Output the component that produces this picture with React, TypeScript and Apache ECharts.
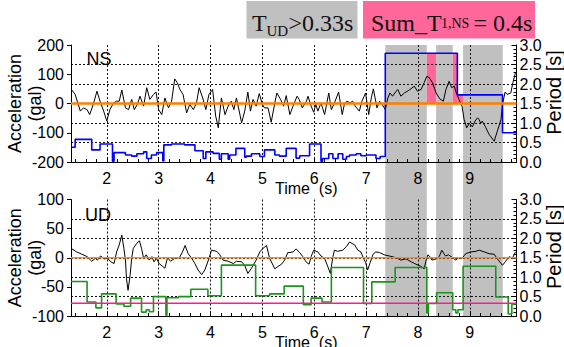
import React, { useEffect, useRef } from "react";
import * as echarts from "echarts";

// ---- axis ranges / reference levels ----
const X_MIN = 1.31;
const X_MAX = 9.9;
const NS_ACC_MIN = -200;
const NS_ACC_MAX = 200;
const NS_ACC_STEP = 100;
const UD_ACC_MIN = -100;
const UD_ACC_MAX = 100;
const UD_ACC_STEP = 50;
const PERIOD_MIN = 0;
const PERIOD_MAX = 3;
const PERIOD_STEP = 0.5;
const ZERO_LEVEL = 0;
const UD_THRESHOLD = 0.33;
const PINK_BASE = 1.5;

// ---- NS acceleration (gal) ----
const NS_ACCEL: [number, number][] = [
  [1.31, 50], [1.39, 31], [1.49, -26], [1.55, -15], [1.62, -21], [1.67, -38], [1.74, -3], [1.81, 42],
  [1.87, 8], [1.94, -26], [2.0, -60], [2.06, -21], [2.13, 2], [2.19, 8], [2.24, 8], [2.29, 46],
  [2.36, -15], [2.42, -21], [2.48, 14], [2.53, -21], [2.59, -3], [2.64, 25], [2.71, -9], [2.77, 54],
  [2.83, 14], [2.9, 31], [2.95, 39], [3.0, -21], [3.06, -38], [3.12, 19], [3.19, -15], [3.25, 8],
  [3.31, 84], [3.36, 71], [3.41, 48], [3.47, 31], [3.54, -32], [3.6, -3], [3.67, -21], [3.73, 2],
  [3.78, 54], [3.85, 19], [3.91, -21], [3.97, 31], [4.04, 48], [4.1, -43], [4.15, -83], [4.21, 19],
  [4.28, -38], [4.34, -9], [4.4, 8], [4.45, -21], [4.5, 19], [4.6, -66], [4.66, -26], [4.72, 39],
  [4.77, -26], [4.82, 14], [4.88, -9], [4.94, 34], [5.0, -3], [5.04, -15], [5.11, -15], [5.17, -64],
  [5.24, 2], [5.28, 36], [5.35, 14], [5.41, -9], [5.46, 27], [5.53, -38], [5.59, -9], [5.67, 25],
  [5.71, 14], [5.77, -15], [5.85, 8], [5.88, 25], [5.94, -9], [5.99, -30], [6.03, -3], [6.07, -26],
  [6.13, 2], [6.2, -38], [6.28, 36], [6.33, -21], [6.39, 2], [6.47, 39], [6.54, -38], [6.58, -3],
  [6.63, 8], [6.69, 2], [6.74, 8], [6.79, -9], [6.87, -26], [6.92, 8], [6.99, 36], [7.05, -38],
  [7.1, 19], [7.14, 50], [7.21, -15], [7.26, 8], [7.31, -3], [7.37, -21], [7.42, 19], [7.46, 36],
  [7.51, 25], [7.58, 42], [7.61, 48], [7.67, 25], [7.74, 36], [7.83, 46], [7.93, 59], [7.99, 42],
  [8.06, 48], [8.12, 71], [8.17, 93], [8.22, 88], [8.28, 71], [8.35, 36], [8.42, 16], [8.49, 8],
  [8.54, 48], [8.6, 76], [8.65, 54], [8.7, 59], [8.74, 36], [8.79, 14], [8.85, -9], [8.89, -55],
  [8.94, -83], [8.99, -68], [9.05, -80], [9.1, -60], [9.15, -49], [9.18, -55], [9.21, -68], [9.24, -60],
  [9.31, -83], [9.37, -105], [9.47, -129], [9.53, -95], [9.6, -55], [9.63, -3], [9.68, 39], [9.72, 31],
  [9.79, 36], [9.83, 71], [9.88, 105],
];

// ---- NS predominant period (s), step starts ----
const NS_PERIOD: [number, number][] = [
  [1.31, 0.38], [1.39, 0.58], [1.71, 0.31], [1.87, 0.46], [2.11, 0.02], [2.14, 0.24], [2.36, 0.18],
  [2.48, 0.15], [2.58, 0.21], [2.71, 0.26], [2.77, 0.09], [2.86, 0.18], [2.96, 0.24], [3.08, 0.03],
  [3.1, 0.44], [3.25, 0.46], [3.5, 0.44], [3.7, 0.29], [3.86, 0.09], [3.91, 0.26], [4.05, 0.22],
  [4.17, 0.07], [4.21, 0.21], [4.34, 0.07], [4.37, 0.18], [4.49, 0.35], [4.66, 0.12], [4.69, 0.15],
  [4.79, 0.21], [4.95, 0.14], [5.04, 0.31], [5.24, 0.18], [5.33, 0.15], [5.46, 0.35], [5.65, 0.1],
  [5.72, 0.16], [5.91, 0.46], [6.13, 0.02], [6.16, 0.09], [6.28, 0.21], [6.36, 0.09], [6.46, 0.21],
  [6.55, 0.07], [6.62, 0.14], [6.68, 0.18], [6.81, 0.21], [6.9, 0.16], [7.0, 0.18], [7.19, 0.09],
  [7.27, 0.14], [7.37, 2.79], [8.76, 1.72], [9.63, 0.75], [9.9, 0.75],
];

// ---- UD acceleration (gal) ----
const UD_ACCEL: [number, number][] = [
  [1.31, 16], [1.42, 10], [1.52, 6], [1.62, 2], [1.71, -6], [1.78, -1], [1.82, -4], [1.88, 3],
  [1.95, -2], [2.01, -1], [2.08, -7], [2.14, -10], [2.19, 10], [2.24, 22], [2.29, 39], [2.33, 16],
  [2.36, -4], [2.38, -36], [2.41, -56], [2.45, -30], [2.48, -1], [2.51, 16], [2.58, 25], [2.63, 29],
  [2.67, 16], [2.71, -1], [2.76, 5], [2.82, -4], [2.87, 2], [2.91, -7], [2.96, -1], [3.01, -10],
  [3.08, -15], [3.12, -18], [3.17, 0], [3.23, -6], [3.31, -1], [3.4, 0], [3.46, 10], [3.51, 21],
  [3.57, 7], [3.63, 0], [3.7, -10], [3.76, -21], [3.83, -29], [3.89, -21], [3.96, -4], [4.02, 13],
  [4.12, 11], [4.18, 5], [4.24, -4], [4.34, -6], [4.44, -10], [4.5, -6], [4.6, -7], [4.66, -13],
  [4.72, -27], [4.79, -18], [4.88, -4], [4.95, 10], [5.01, 16], [5.08, 21], [5.14, -1], [5.24, -19],
  [5.3, -15], [5.37, -11], [5.43, -4], [5.49, 9], [5.53, 9], [5.59, 10], [5.65, 15], [5.72, 9],
  [5.78, 2], [5.85, -8], [5.9, -11], [5.94, 2], [5.99, 13], [6.07, 10], [6.13, 3], [6.2, -1],
  [6.26, -15], [6.31, -27], [6.36, 2], [6.39, 13], [6.45, 11], [6.55, 13], [6.62, 19], [6.68, 27],
  [6.78, 22], [6.84, 13], [6.9, 10], [6.95, -1], [6.99, -8], [7.03, -21], [7.08, -8], [7.13, 5],
  [7.18, 10], [7.26, 9], [7.35, 5], [7.45, 3], [7.58, 0], [7.67, -4], [7.77, -2], [7.87, -7],
  [7.96, -11], [8.06, -15], [8.12, -19], [8.15, -7], [8.19, 5], [8.22, 3], [8.27, -4], [8.35, -2],
  [8.41, 2], [8.46, 13], [8.53, 3], [8.59, 5], [8.67, 0], [8.73, -4], [8.78, 0], [8.85, -1],
  [8.92, 7], [9.02, 10], [9.12, 11], [9.18, 13], [9.28, 10], [9.37, 7], [9.47, 6], [9.55, -4],
  [9.63, -13], [9.69, -6], [9.76, 2], [9.82, -1], [9.88, 10],
];

// ---- UD predominant period (s), step starts ----
const UD_PERIOD: [number, number][] = [
  [1.31, 0.89], [1.62, 0.36], [1.79, 0.21], [1.9, 0.57], [2.18, 0.31], [2.33, 0.25], [2.46, 0.46],
  [2.67, 0.1], [2.76, 0.16], [2.82, 0.11], [2.9, 0.5], [3.14, 0.02], [3.16, 0.47], [3.38, 0.5],
  [3.62, 0.69], [3.95, 0.52], [4.21, 1.31], [4.87, 0.52], [5.14, 0.57], [5.42, 0.77], [5.79, 0.29],
  [5.94, 0.46], [6.15, 0.36], [6.33, 1.25], [6.95, 0.32], [7.11, 0.88], [7.56, 1.25], [8.17, 0.08],
  [8.2, 0.32], [8.36, 0.6], [8.67, 0.16], [8.73, 0.08], [8.77, 0.16], [8.87, 1.28], [9.5, 0.49],
  [9.74, 0.05], [9.81, 0.31], [9.9, 0.31],
];

// ---- shaded intervals ----
const GRAY_SPANS: [number, number][] = [[7.37, 8.17], [8.35, 8.67], [8.87, 9.635]];
const PINK_SPANS: [number, number, number][] = [[8.17, 8.35, 2.79], [8.67, 8.76, 2.79], [8.76, 8.87, 1.72]];

// ---- legend texts ----
const LEGEND_GRAY = ["T", "UD", ">0.33s"];
const LEGEND_PINK = ["Sum_T", "1,NS", "= 0.4s"];

const SANS = "'Liberation Sans', Arial, sans-serif";
const SERIF = "'Liberation Serif', 'Times New Roman', serif";
const GRID_LEFT = 71;
const GRID_RIGHT = 47.5;

function xAxisCfg(gridIndex: number) {
  return {
    type: "value",
    gridIndex,
    min: X_MIN,
    max: X_MAX,
    splitNumber: 8,
    z: 1.5,
    name: "Time  (s)",
    nameLocation: "middle",
    nameGap: 18,
    nameMoveOverlap: false,
    nameTextStyle: { fontSize: 16, color: "#000", fontFamily: SANS, padding: [0, 0, 0, 25] },
    axisLine: { show: true, onZero: false, lineStyle: { color: "#000", width: 1 } },
    axisTick: { show: true, inside: true, length: 5, lineStyle: { color: "#000" } },
    minorTick: { show: true, splitNumber: 5, length: 3, lineStyle: { color: "#000" } },
    axisLabel: { show: true, margin: 8, fontSize: 16, color: "#000", fontFamily: SANS, showMinLabel: false, showMaxLabel: false },
    splitLine: { show: true, showMinLine: false, showMaxLine: false, lineStyle: { color: "#111", type: [2, 2], width: 1 } },
  };
}

function accAxisCfg(gridIndex: number, min: number, max: number, interval: number) {
  return {
    type: "value",
    gridIndex,
    position: "left",
    min,
    max,
    interval,
    z: 1.5,
    name: "Acceleration\n(gal)",
    nameLocation: "middle",
    nameRotate: 90,
    nameGap: 26,
    nameMoveOverlap: false,
    nameTextStyle: { fontSize: 18, lineHeight: 20, color: "#000", fontFamily: SANS },
    axisLine: { show: true, onZero: false, lineStyle: { color: "#000", width: 1 } },
    axisTick: { show: true, inside: false, length: 4, lineStyle: { color: "#000" } },
    axisLabel: { show: true, margin: 7, fontSize: 16, color: "#000", fontFamily: SANS },
    splitLine: { show: false },
  };
}

function periodAxisCfg(gridIndex: number) {
  return {
    type: "value",
    gridIndex,
    position: "right",
    min: PERIOD_MIN,
    max: PERIOD_MAX,
    interval: PERIOD_STEP,
    z: 1.5,
    name: "Period [s]",
    nameLocation: "middle",
    nameRotate: 90,
    nameGap: 27,
    nameMoveOverlap: false,
    nameTextStyle: { fontSize: 20, color: "#000", fontFamily: SANS, padding: [0, 0, 0, 22] },
    axisLine: { show: true, onZero: false, lineStyle: { color: "#000", width: 1 } },
    axisTick: { show: true, inside: true, length: 5, lineStyle: { color: "#000" } },
    minorTick: { show: true, splitNumber: 5, length: 3, lineStyle: { color: "#000" } },
    axisLabel: { show: true, margin: 3, fontSize: 16, color: "#000", fontFamily: SANS, formatter: (v: number) => v.toFixed(1) },
    splitLine: { show: true, showMinLine: false, showMaxLine: false, lineStyle: { color: "#111", type: [2, 2], width: 1 } },
  };
}

function hLine(xi: number, yi: number, level: number, color: string, width: number) {
  return {
    type: "line",
    xAxisIndex: xi,
    yAxisIndex: yi,
    data: [[X_MIN, level], [X_MAX, level]],
    symbol: "none",
    silent: true,
    z: 3,
    lineStyle: { color, width },
  };
}

export default function App() {
  const ref = useRef<HTMLDivElement>(null);
  useEffect(() => {
    if (!ref.current) return;
    const chart = echarts.init(ref.current, undefined, { renderer: "svg" });
    const option: any = {
      animation: false,
      backgroundColor: "#fff",
      grid: [
        { left: GRID_LEFT, right: GRID_RIGHT, top: 45, height: 117, outerBoundsMode: "none" },
        { left: GRID_LEFT, right: GRID_RIGHT, top: 199.5, height: 116.5, outerBoundsMode: "none" },
        { left: GRID_LEFT, right: GRID_RIGHT, top: 45, height: 271, outerBoundsMode: "none" },
      ],
      xAxis: [
        xAxisCfg(0),
        xAxisCfg(1),
        { type: "value", gridIndex: 2, min: X_MIN, max: X_MAX, show: false },
      ],
      yAxis: [
        accAxisCfg(0, NS_ACC_MIN, NS_ACC_MAX, NS_ACC_STEP),
        periodAxisCfg(0),
        accAxisCfg(1, UD_ACC_MIN, UD_ACC_MAX, UD_ACC_STEP),
        periodAxisCfg(1),
        { type: "value", gridIndex: 2, min: 0, max: 1, show: false },
      ],
      series: [
        {
          type: "line",
          xAxisIndex: 2,
          yAxisIndex: 4,
          data: [[X_MIN, 0]],
          symbol: "none",
          silent: true,
          z: 0,
          lineStyle: { opacity: 0 },
          markArea: {
            silent: true,
            z: 0,
            itemStyle: { color: "#c0c0c0", opacity: 1 },
            label: { show: false },
            data: GRAY_SPANS.map(([a, b]) => [{ xAxis: a }, { xAxis: b }]),
          },
        },
        {
          type: "line",
          xAxisIndex: 0,
          yAxisIndex: 1,
          data: [[X_MIN, 0]],
          symbol: "none",
          silent: true,
          z: 0,
          lineStyle: { opacity: 0 },
          markArea: {
            silent: true,
            z: 0,
            itemStyle: { color: "#ff6699", opacity: 1 },
            label: { show: false },
            data: PINK_SPANS.map(([a, b, top]) => [{ xAxis: a, yAxis: PINK_BASE }, { xAxis: b, yAxis: top }]),
          },
        },
        {
          type: "line",
          xAxisIndex: 0,
          yAxisIndex: 0,
          data: NS_ACCEL,
          symbol: "none",
          lineStyle: { color: "#000", width: 1 },
        },
        {
          type: "line",
          xAxisIndex: 0,
          yAxisIndex: 1,
          data: NS_PERIOD,
          step: "end",
          symbol: "none",
          lineStyle: { color: "#0000ff", width: 1.6 },
        },
        hLine(0, 0, ZERO_LEVEL, "#ff8000", 2.5),
        {
          type: "line",
          xAxisIndex: 1,
          yAxisIndex: 2,
          data: UD_ACCEL,
          symbol: "none",
          lineStyle: { color: "#000", width: 1 },
        },
        {
          type: "line",
          xAxisIndex: 1,
          yAxisIndex: 3,
          data: UD_PERIOD,
          step: "end",
          symbol: "none",
          lineStyle: { color: "#1a951a", width: 1.6 },
        },
        hLine(1, 2, ZERO_LEVEL, "#ff8c1a", 1.5),
        hLine(1, 3, UD_THRESHOLD, "#ff1a8c", 1.5),
      ],
      graphic: [
        { type: "rect", shape: { x: 246.5, y: 1, width: 111, height: 37.5 }, style: { fill: "#c0c0c0" }, z: 10 },
        { type: "rect", shape: { x: 363, y: 1, width: 172, height: 37.5 }, style: { fill: "#ff6699" }, z: 10 },
        { type: "text", x: 252, y: 22.5, z: 11, style: { text: LEGEND_GRAY[0], fontSize: 24, fontFamily: SERIF, fill: "#111", align: "left", verticalAlign: "middle" } },
        { type: "text", x: 266.5, y: 31, z: 11, style: { text: LEGEND_GRAY[1], fontSize: 15, fontFamily: SERIF, fill: "#111", align: "left", verticalAlign: "middle" } },
        { type: "text", x: 288.5, y: 22.5, z: 11, style: { text: LEGEND_GRAY[2], fontSize: 24, fontFamily: SERIF, fill: "#111", align: "left", verticalAlign: "middle" } },
        { type: "text", x: 371, y: 22.5, z: 11, style: { text: LEGEND_PINK[0], fontSize: 24, fontFamily: SERIF, fill: "#111", align: "left", verticalAlign: "middle" } },
        { type: "text", x: 441, y: 23.7, z: 11, style: { text: LEGEND_PINK[1], fontSize: 14, fontFamily: SERIF, fill: "#111", align: "left", verticalAlign: "middle" } },
        { type: "text", x: 473.5, y: 22.5, z: 11, style: { text: LEGEND_PINK[2], fontSize: 24, fontFamily: SERIF, fill: "#111", align: "left", verticalAlign: "middle" } },
        { type: "text", x: 86.5, y: 59, z: 11, style: { text: "NS", fontSize: 18, fontFamily: SANS, fill: "#000", align: "left", verticalAlign: "middle" } },
        { type: "text", x: 85, y: 214.5, z: 11, style: { text: "UD", fontSize: 18, fontFamily: SANS, fill: "#000", align: "left", verticalAlign: "middle" } },
      ],
    };
    chart.setOption(option);
    return () => chart.dispose();
  }, []);
  return <div ref={ref} style={{ position: "fixed", left: 0, top: 0, width: 564, height: 347 }} />;
}
